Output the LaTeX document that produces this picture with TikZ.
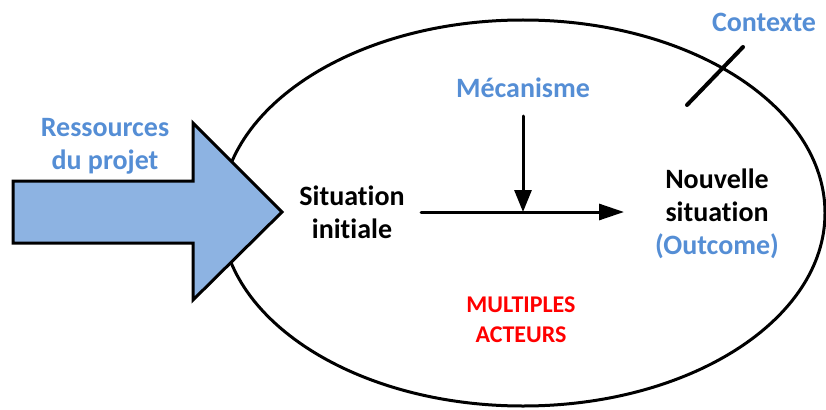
\documentclass[tikz,border=0pt]{standalone}
\usepackage{fontspec}
\setmainfont{Carlito}[RawFeature={-liga;-dlig}]
\usetikzlibrary{arrows.meta}
\definecolor{labelblue}{RGB}{85,142,213}
\definecolor{arrowfill}{RGB}{141,179,226}
\definecolor{actorred}{RGB}{255,0,0}
\begin{document}
\begin{tikzpicture}[x=1pt,y=-1pt,
  bigtext/.style={font=\fontsize{28}{33}\selectfont\bfseries, align=center, inner sep=0pt},
  smalltext/.style={font=\fontsize{24}{30}\selectfont\bfseries, align=center, inner sep=0pt},
  flow/.style={line width=3pt, line cap=round},
  fatarrow/.style={line width=3pt, line join=miter, fill=arrowfill, draw=black}]
  \useasboundingbox (0,0) rectangle (826,409);
  % project boundary
  \draw[line width=3pt] (523,213) ellipse [x radius=302, y radius=193];
  % resources entering the project
  \draw[fatarrow] (13,181) -- (193,181) -- (193,123) -- (282,212) -- (193,300) -- (193,243) -- (13,243) -- cycle;
  % labels
  \node[bigtext, text=labelblue] (res) at (105,146) {Ressources\\du projet};
  \node[bigtext] (init) at (352,212) {Situation\\initiale};
  \node[bigtext] (new) at (717,214) {Nouvelle\\situation\\\textcolor{labelblue}{(Outcome)}};
  \node[bigtext, text=labelblue] (meca) at (523,88) {Mécanisme};
  \node[bigtext, text=labelblue] (ctx) at (764,22) {Contexte};
  \node[smalltext, text=actorred] (actors) at (521,320) {MULTIPLES\\ACTEURS};
  % connectors
  \coordinate (start) at (421,212);
  \coordinate (finish) at (624,212);
  \coordinate (mid) at (523,212);
  \coordinate (mtop) at (523,116);
  \coordinate (ctxa) at (687,105);
  \coordinate (ctxb) at (743,47);
  \draw[flow, -{Triangle[length=25pt,width=16pt]}] (start) -- (finish);
  \draw[flow, -{Triangle[length=22pt,width=17pt]}] (mtop) -- (mid);
  \draw[line width=4pt, line cap=round] (ctxa) -- (ctxb);
\end{tikzpicture}
\end{document}
